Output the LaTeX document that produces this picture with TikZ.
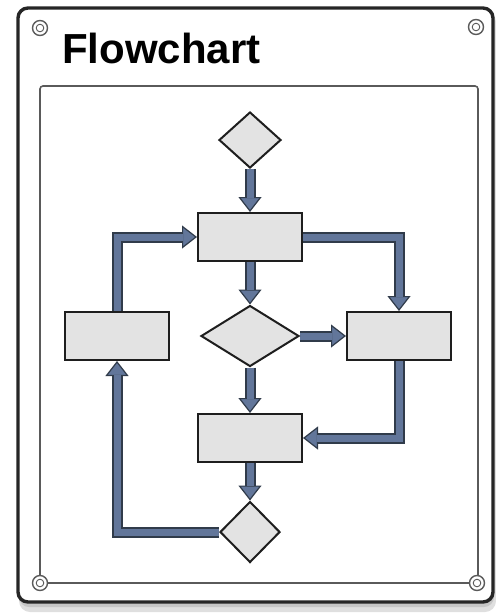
\documentclass[tikz,border=0pt]{standalone}
\usepackage{fontspec}
\newfontfamily\titlefont{Liberation Sans}
\usetikzlibrary{shapes.geometric,arrows.meta}
\definecolor{shaft}{HTML}{62769A}
\definecolor{shaftedge}{HTML}{303B4A}
\definecolor{boxfill}{HTML}{E3E3E3}
\definecolor{boxline}{HTML}{1E1E1E}
\definecolor{panelline}{HTML}{5A5A5A}
\pgfdeclarelayer{bottom}
\pgfdeclarelayer{links}
\pgfsetlayers{bottom,links,main}
\tikzset{
  stepbox/.style={draw=boxline, fill=boxfill, line width=2pt, rectangle,
    minimum width=104pt, minimum height=48pt, inner sep=0pt},
  decide/.style={draw=boxline, fill=boxfill, line width=2pt, diamond,
    inner sep=0pt},
  flowout/.style={draw=shaftedge, line width=11pt, line join=miter, shorten >=14pt},
  flowtip/.style={draw=shaftedge, line width=1.2pt,
    -{Triangle[width=23pt,length=15pt,fill=shaft]}},
  flowin/.style={draw=shaft, line width=7pt, line join=miter, shorten >=14.3pt},
  screw/.style={draw=panelline, fill=white, line width=1.4pt},
}
\newcommand\flowarrow[1]{%
  \draw[flowout] #1;
  \draw[flowtip] #1;
  \draw[flowin] #1;}
\begin{document}
\begin{tikzpicture}[x=1pt,y=-1pt]
\useasboundingbox (0,0) rectangle (496,614);
% frame
\begin{pgfonlayer}{bottom}
  \fill[gray!25, rounded corners=11pt] (19,11) rectangle (496,612);
  \fill[gray!45, rounded corners=10pt] (19,10) rectangle (494,607);
  \draw[line width=3.4pt, draw=black!85, fill=white, rounded corners=10pt]
    (18,8) rectangle (493,602);
  \draw[line width=1.6pt, draw=panelline, rounded corners=3pt]
    (40,86) rectangle (478,583);
  \foreach \p/\q in {40/28, 476/27, 40/583, 477/583}{
    \draw[screw] (\p,\q) circle[radius=7.5];
    \draw[draw=panelline, line width=0.9pt] (\p,\q) circle[radius=3.8];
  }
\end{pgfonlayer}
\node[anchor=base west, inner sep=0pt] (title) at (62,63)
  {\titlefont\bfseries\fontsize{42}{48}\selectfont Flowchart};
% nodes
\node[decide, minimum width=62pt, minimum height=56pt] (d1) at (250,140) {};
\node[stepbox] (b1) at (250,237) {};
\node[decide, minimum width=98pt, minimum height=61pt] (d2) at (250,336) {};
\node[stepbox] (bl) at (117,336) {};
\node[stepbox] (br) at (399,336) {};
\node[stepbox] (b3) at (250,438) {};
\node[decide, minimum width=60pt, minimum height=61pt] (d3) at (250,532) {};
% connectors
\begin{pgfonlayer}{links}
  \flowarrow{(d1.south) -- (b1.north)}
  \flowarrow{(b1.south) -- (d2.north)}
  \flowarrow{(b1.east) -| (br.north)}
  \flowarrow{(d2.east) -- (br.west)}
  \flowarrow{(d2.south) -- (b3.north)}
  \flowarrow{(br.south) |- (b3.east)}
  \flowarrow{(b3.south) -- (d3.north)}
  \flowarrow{(d3.west) -| (bl.south)}
  \flowarrow{(bl.north) |- (b1.west)}
\end{pgfonlayer}
\end{tikzpicture}
\end{document}
